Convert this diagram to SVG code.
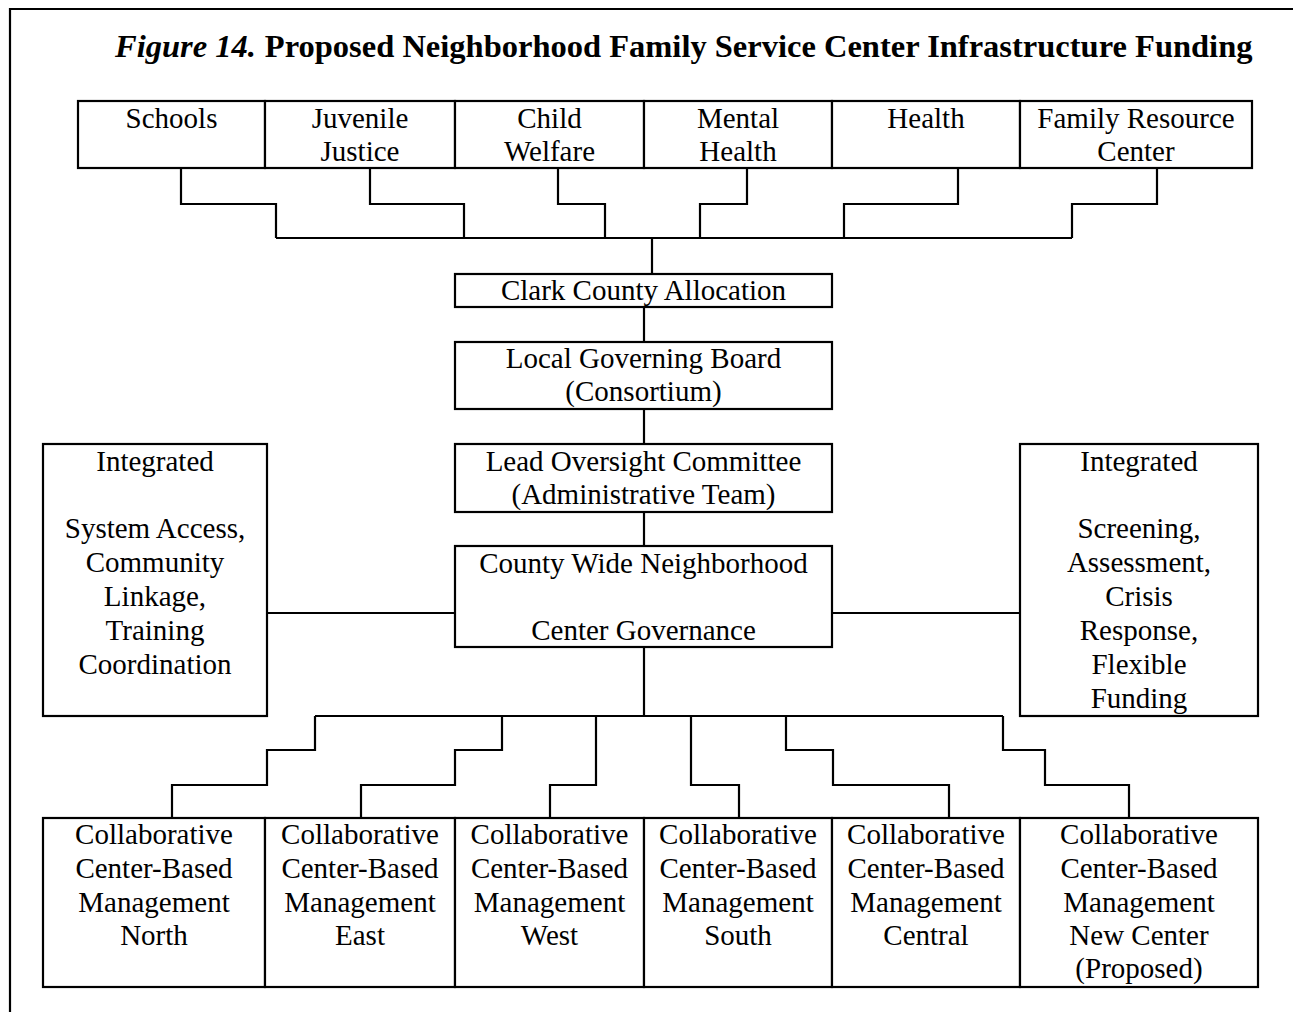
<svg xmlns="http://www.w3.org/2000/svg" width="1293" height="1012" viewBox="0 0 1293 1012">
<style>
.box{fill:#fff;stroke:#000;stroke-width:2.2}
.t{font-family:"Liberation Serif","Times New Roman",serif;font-size:29px;fill:#000;text-anchor:middle}
.ttl{font-family:"Liberation Serif","Times New Roman",serif;font-size:32.5px;font-weight:bold;fill:#000}
.c{fill:none;stroke:#000;stroke-width:2.2}
</style>
<rect width="1293" height="1012" fill="#fff"/>
<g id="frame"><path class="c" d="M10,1012 V9 H1293" stroke-width="2.6"/></g>
<g id="title"><text class="ttl" x="115" y="57"><tspan font-style="italic">Figure 14.</tspan><tspan dx="9">Proposed Neighborhood Family Service Center Infrastructure Funding</tspan></text></g>
<g id="connectors">
<path class="c" d="M181,168 V204 H276 V238"/>
<path class="c" d="M370,168 V204 H464 V238"/>
<path class="c" d="M558,168 V204 H605 V238"/>
<path class="c" d="M747,168 V204 H700 V238"/>
<path class="c" d="M958,168 V204 H844 V238"/>
<path class="c" d="M1157,168 V204 H1072 V238"/>
<path class="c" d="M276,238 H1072"/>
<path class="c" d="M652,238 V274"/>
<path class="c" d="M644,307 V342"/>
<path class="c" d="M644,409 V444"/>
<path class="c" d="M644,512 V547"/>
<path class="c" d="M267,613 H455"/>
<path class="c" d="M832,613 H1020"/>
<path class="c" d="M644,647 V716"/>
<path class="c" d="M315,716 H1003"/>
<path class="c" d="M315,716 V750 H267 V785 H172 V818"/>
<path class="c" d="M502,716 V750 H455 V785 H361 V818"/>
<path class="c" d="M596,716 V785 H550 V818"/>
<path class="c" d="M691,716 V785 H739 V818"/>
<path class="c" d="M786,716 V750 H833 V785 H949 V818"/>
<path class="c" d="M1003,716 V750 H1045 V785 H1129 V818"/>
</g>
<g id="schools"><rect class="box" x="78" y="101" width="187" height="67"/><text class="t" x="171.5" y="128">Schools</text></g>
<g id="juvenile"><rect class="box" x="265" y="101" width="190" height="67"/><text class="t" x="360" y="128">Juvenile</text><text class="t" x="360" y="161">Justice</text></g>
<g id="child"><rect class="box" x="455" y="101" width="189" height="67"/><text class="t" x="549.5" y="128">Child</text><text class="t" x="549.5" y="161">Welfare</text></g>
<g id="mental"><rect class="box" x="644" y="101" width="188" height="67"/><text class="t" x="738" y="128">Mental</text><text class="t" x="738" y="161">Health</text></g>
<g id="health"><rect class="box" x="832" y="101" width="188" height="67"/><text class="t" x="926" y="128">Health</text></g>
<g id="family"><rect class="box" x="1020" y="101" width="232" height="67"/><text class="t" x="1136" y="128">Family Resource</text><text class="t" x="1136" y="161">Center</text></g>
<g id="clark"><rect class="box" x="455" y="274" width="377" height="33"/><text class="t" x="643.5" y="300">Clark County Allocation</text></g>
<g id="board"><rect class="box" x="455" y="342" width="377" height="67"/><text class="t" x="643.5" y="368">Local Governing Board</text><text class="t" x="643.5" y="401">(Consortium)</text></g>
<g id="oversight"><rect class="box" x="455" y="444" width="377" height="68"/><text class="t" x="643.5" y="471">Lead Oversight Committee</text><text class="t" x="643.5" y="504">(Administrative Team)</text></g>
<g id="governance"><rect class="box" x="455" y="546" width="377" height="101"/><text class="t" x="643.5" y="573">County Wide Neighborhood</text><text class="t" x="643.5" y="640">Center Governance</text></g>
<g id="left-integrated"><rect class="box" x="43" y="444" width="224" height="272"/>
<text class="t" x="155" y="471">Integrated</text>
<text class="t" x="155" y="538">System Access,</text>
<text class="t" x="155" y="572">Community</text>
<text class="t" x="155" y="606">Linkage,</text>
<text class="t" x="155" y="640">Training</text>
<text class="t" x="155" y="674">Coordination</text></g>
<g id="right-integrated"><rect class="box" x="1020" y="444" width="238" height="272"/>
<text class="t" x="1139" y="471">Integrated</text>
<text class="t" x="1139" y="538">Screening,</text>
<text class="t" x="1139" y="572">Assessment,</text>
<text class="t" x="1139" y="606">Crisis</text>
<text class="t" x="1139" y="640">Response,</text>
<text class="t" x="1139" y="674">Flexible</text>
<text class="t" x="1139" y="708">Funding</text></g>
<g id="north"><rect class="box" x="43" y="818" width="222" height="169"/><text class="t" x="154" y="844">Collaborative</text><text class="t" x="154" y="878">Center-Based</text><text class="t" x="154" y="912">Management</text><text class="t" x="154" y="945">North</text></g>
<g id="east"><rect class="box" x="265" y="818" width="190" height="169"/><text class="t" x="360" y="844">Collaborative</text><text class="t" x="360" y="878">Center-Based</text><text class="t" x="360" y="912">Management</text><text class="t" x="360" y="945">East</text></g>
<g id="west"><rect class="box" x="455" y="818" width="189" height="169"/><text class="t" x="549.5" y="844">Collaborative</text><text class="t" x="549.5" y="878">Center-Based</text><text class="t" x="549.5" y="912">Management</text><text class="t" x="549.5" y="945">West</text></g>
<g id="south"><rect class="box" x="644" y="818" width="188" height="169"/><text class="t" x="738" y="844">Collaborative</text><text class="t" x="738" y="878">Center-Based</text><text class="t" x="738" y="912">Management</text><text class="t" x="738" y="945">South</text></g>
<g id="central"><rect class="box" x="832" y="818" width="188" height="169"/><text class="t" x="926" y="844">Collaborative</text><text class="t" x="926" y="878">Center-Based</text><text class="t" x="926" y="912">Management</text><text class="t" x="926" y="945">Central</text></g>
<g id="newcenter"><rect class="box" x="1020" y="818" width="238" height="169"/><text class="t" x="1139" y="844">Collaborative</text><text class="t" x="1139" y="878">Center-Based</text><text class="t" x="1139" y="912">Management</text><text class="t" x="1139" y="945">New Center</text><text class="t" x="1139" y="978">(Proposed)</text></g>
</svg>
